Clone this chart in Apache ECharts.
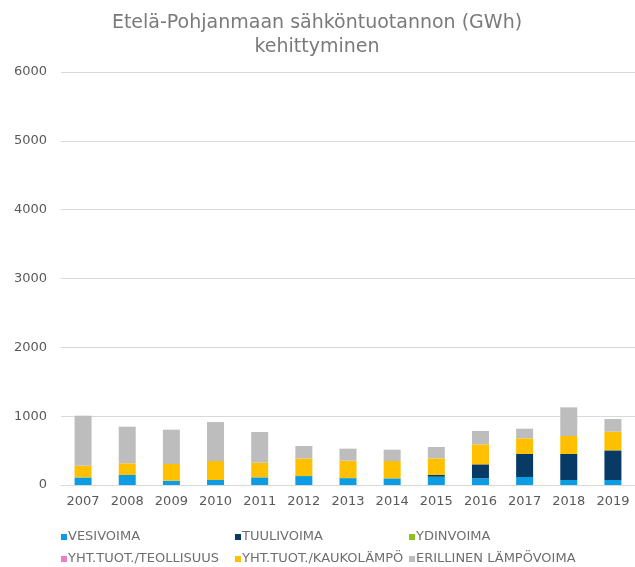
<!DOCTYPE html>
<html>
<head>
<meta charset="utf-8">
<script src="https://cdn.jsdelivr.net/npm/echarts@6/dist/echarts.min.js"></script>
<style>
  html, body { margin: 0; padding: 0; background: #fff; }
  #chart { width: 635px; height: 567px; }
</style>
</head>
<body>
<div id="chart"></div>
<script>
// GWh per year
const years = ['2007', '2008', '2009', '2010', '2011', '2012', '2013', '2014', '2015', '2016', '2017', '2018', '2019']
const vesivoima = [110, 145, 63, 73, 111, 130, 100, 97, 120, 97, 116, 73, 73]
const tuulivoima = [0, 0, 0, 0, 0, 0, 0, 0, 25, 203, 334, 377, 430]
const ydinvoima = [0, 0, 0, 0, 0, 0, 0, 0, 0, 0, 0, 0, 0]
const teollisuus = [0, 0, 0, 0, 0, 0, 0, 0, 0, 0, 0, 0, 0]
const kaukolampo = [170, 170, 242, 276, 213, 257, 253, 252, 242, 291, 228, 262, 272]
const erillinen = [727, 532, 499, 566, 446, 180, 175, 164, 165, 194, 140, 416, 184]
const yTicks = [0, 1000, 2000, 3000, 4000, 5000, 6000]

const font = 'DejaVu Sans, Verdana, sans-serif'
const textColor = '#595959'

const seriesDefs = [
  { name: 'VESIVOIMA', data: vesivoima, color: '#0A9DE3' },
  { name: 'TUULIVOIMA', data: tuulivoima, color: '#073B66' },
  { name: 'YDINVOIMA', data: ydinvoima, color: '#8DC21F' },
  { name: 'YHT.TUOT./TEOLLISUUS', data: teollisuus, color: '#EE7FC6' },
  { name: 'YHT.TUOT./KAUKOLÄMPÖ', data: kaukolampo, color: '#FFC000' },
  { name: 'ERILLINEN LÄMPÖVOIMA', data: erillinen, color: '#BDBDBD' },
]

// three legend columns, two items each, like the original layout
const legendColumn = (left, names) => ({
  orient: 'vertical',
  left,
  top: 530,
  padding: 0,
  itemWidth: 6,
  itemHeight: 6,
  itemGap: 8,
  icon: 'rect',
  selectedMode: false,
  textStyle: { color: '#6e6e6e', fontFamily: font, fontSize: 13, lineHeight: 14, padding: [0, 0, 0, -4] },
  data: names,
})

const chart = echarts.init(document.getElementById('chart'), null, { renderer: 'canvas' })
chart.setOption({
  animation: false,
  title: {
    text: 'Etelä-Pohjanmaan sähköntuotannon (GWh)\nkehittyminen',
    left: 317,
    textAlign: 'center',
    top: 11,
    padding: 0,
    textStyle: { color: '#7a7a7a', fontFamily: font, fontSize: 19, fontWeight: 'normal', lineHeight: 24 },
  },
  legend: [
    legendColumn(61, ['VESIVOIMA', 'YHT.TUOT./TEOLLISUUS']),
    legendColumn(235, ['TUULIVOIMA', 'YHT.TUOT./KAUKOLÄMPÖ']),
    legendColumn(409, ['YDINVOIMA', 'ERILLINEN LÄMPÖVOIMA']),
  ],
  grid: { left: 61, top: 72, width: 578, bottom: 82, containLabel: false },
  xAxis: {
    type: 'category',
    data: years,
    axisLine: { lineStyle: { color: '#D9D9D9' } },
    axisTick: { show: false },
    axisLabel: { color: textColor, fontFamily: font, fontSize: 13, margin: 10 },
  },
  yAxis: {
    type: 'value',
    min: yTicks[0],
    max: yTicks[yTicks.length - 1],
    interval: yTicks[1] - yTicks[0],
    axisLine: { show: false },
    axisTick: { show: false },
    splitLine: { lineStyle: { color: '#D9D9D9' } },
    axisLabel: { color: textColor, fontFamily: font, fontSize: 13, margin: 14, formatter: (v) => String(v) },
  },
  series: seriesDefs.map((s) => ({
    type: 'bar',
    name: s.name,
    stack: 'total',
    barWidth: 17,
    data: s.data,
    itemStyle: { color: s.color },
    emphasis: { disabled: true },
  })),
})
</script>
</body>
</html>
